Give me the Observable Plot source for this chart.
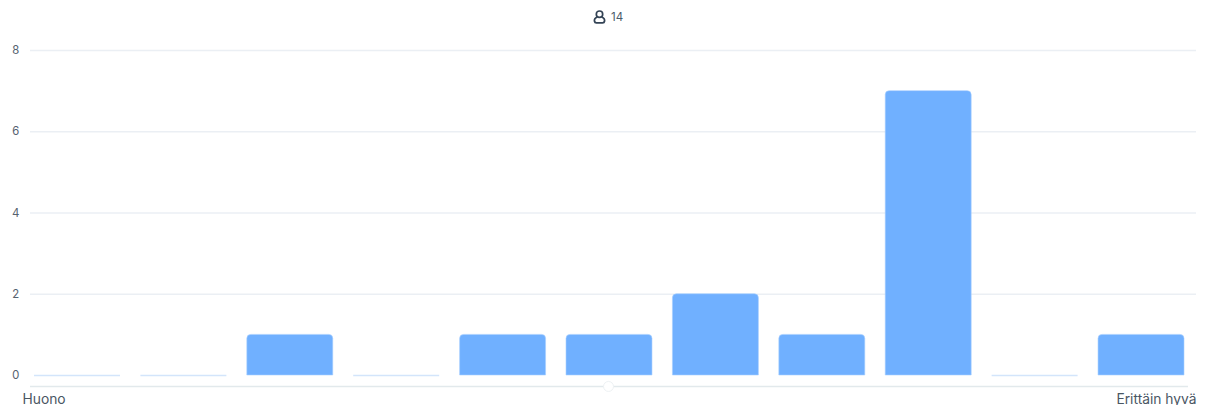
<!DOCTYPE html>
<html>
<head>
<meta charset="utf-8">
<script src="https://cdn.jsdelivr.net/npm/d3@7"></script>
<script src="https://cdn.jsdelivr.net/npm/@observablehq/plot@0.6"></script>
<style>
  html, body { margin: 0; padding: 0; background: #fff; overflow: hidden; }
  #head { height: 35px; position: relative; font: 11.5px Inter, sans-serif; color: #4a5a6a; }
  #head svg { position: absolute; left: 593px; top: 10px; }
  #head span { position: absolute; left: 611px; top: 10px; line-height: 14px; }
  #chart svg { display: block; }
</style>
</head>
<body>
<div id="head">
  <svg width="13" height="14" viewBox="0 0 13 14" fill="none" stroke="#334355" stroke-width="1.7">
    <circle cx="6.5" cy="4.2" r="3.2"/>
    <path d="M4.2 7 C2 8 1.2 9.6 1.4 11 C1.6 12.2 2.4 12.8 3.4 12.8 H9.6 C10.6 12.8 11.4 12.2 11.6 11 C11.8 9.6 11 8 8.8 7"/>
  </svg>
  <span id="count"></span>
</div>
<div id="chart"></div>
<script>
// Answers per point on the eleven-step rating scale
const steps = [0, 1, 2, 3, 4, 5, 6, 7, 8, 9, 10];
const answers = [0, 0, 1, 0, 1, 1, 2, 1, 7, 0, 1];
const yTicks = [0, 2, 4, 6, 8];
const scaleLow = "Huono";
const scaleHigh = "Erittäin hyvä";
const respondents = 14;
const axisLineAt = -0.27;

const rows = steps.map((step, i) => ({step, count: answers[i]}));
document.getElementById("count").textContent = respondents;

const chart = Plot.plot({
  width: 1213,
  height: 370,
  marginLeft: 30,
  marginRight: 17,
  marginTop: 15,
  marginBottom: 30,
  style: {fontFamily: "Inter, sans-serif", background: "#fff"},
  x: {type: "band", domain: steps, range: [34, 1184], paddingInner: 0.192, paddingOuter: 0, round: false, axis: null},
  y: {domain: [0, 8], axis: null},
  marks: [
    Plot.ruleY(yTicks.filter(d => d > 0), {stroke: "#ebeff4", strokeWidth: 1.4}),
    Plot.axisY({ticks: yTicks, anchor: "left", tickSize: 0, tickPadding: 11, tickFormat: d => d, fontSize: 11.5, color: "#56626f", label: null}),
    Plot.ruleY([axisLineAt], {stroke: "#e2e9ec", strokeWidth: 1.6, insetRight: 8}),
    Plot.dot([axisLineAt], {y: d => d, frameAnchor: "middle", dx: -5, r: 5, fill: "#fff", stroke: "#eef2f4", strokeWidth: 1}),
    Plot.tickY(rows.filter(d => d.count === 0), {x: "step", y: "count", stroke: "#d3e5fb", strokeWidth: 1.4}),
    Plot.barY(rows.filter(d => d.count > 0), {x: "step", y: "count", fill: "#70b0ff", stroke: "#a9d0ff", strokeWidth: 0.6, ry1: 4}),
    Plot.text([scaleLow], {frameAnchor: "bottom-left", dx: -8, dy: 28, textAnchor: "start", fontSize: 13.8, fill: "#4a5663"}),
    Plot.text([scaleHigh], {frameAnchor: "bottom-right", dy: 28, textAnchor: "end", fontSize: 13.8, fill: "#4a5663"})
  ]
});
document.getElementById("chart").appendChild(chart);
</script>
</body>
</html>
